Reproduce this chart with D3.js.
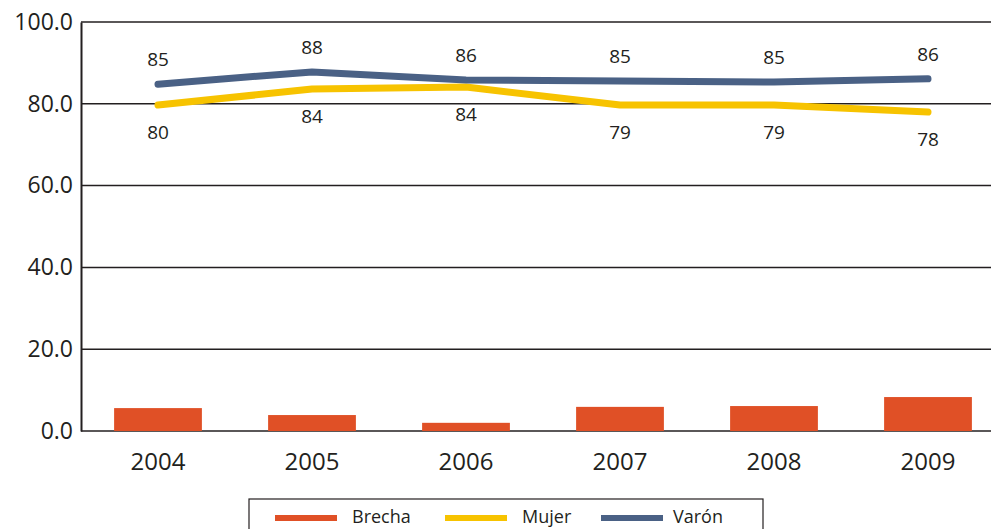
<!DOCTYPE html>
<html>
<head>
<meta charset="utf-8">
<script src="https://cdn.jsdelivr.net/npm/d3@7"></script>
<style>
  body { margin: 0; background: #fff; }
  svg { display: block; font-family: "Open Sans", sans-serif; }
</style>
</head>
<body>
<svg></svg>
<script>
const years = ["2004", "2005", "2006", "2007", "2008", "2009"];
const brecha = [5.6, 3.9, 2.0, 5.9, 6.1, 8.3];
const mujer = [79.7, 83.6, 84.1, 79.7, 79.7, 78.0];
const varon = [84.8, 87.8, 85.8, 85.6, 85.3, 86.1];
const mujerLabels = ["80", "84", "84", "79", "79", "78"];
const varonLabels = ["85", "88", "86", "85", "85", "86"];
const yTicks = [0, 20, 40, 60, 80, 100];

const svgWidth = 991, svgHeight = 529;
const margin = { top: 22, right: -14, bottom: 98, left: 81 };
const width = svgWidth - margin.left - margin.right;
const height = svgHeight - margin.top - margin.bottom;
const ink = "#231f20";

const svg = d3.select("svg").attr("width", svgWidth).attr("height", svgHeight);
const g = svg.append("g").attr("transform", "translate(" + margin.left + "," + margin.top + ")");

const x = d3.scaleBand().domain(years).range([0, width]).paddingInner(0.43).paddingOuter(0.215);
const y = d3.scaleLinear().domain([0, 100]).range([height, 0]);

// gridlines
g.append("g")
    .selectAll("line")
    .data(yTicks)
    .join("line")
    .attr("x1", 0)
    .attr("x2", width)
    .attr("y1", d => y(d))
    .attr("y2", d => y(d))
    .attr("stroke", ink)
    .attr("stroke-width", 1.5);

// y axis
const yAxis = g.append("g")
    .call(d3.axisLeft(y).tickValues(yTicks).tickSize(0).tickPadding(8).tickFormat(d3.format(".1f")));
yAxis.select(".domain").attr("stroke", ink).attr("stroke-width", 2);
yAxis.selectAll("text").attr("fill", ink).style("font-size", "23px").style("font-family", "Open Sans");

// bars
g.append("g")
    .selectAll("rect")
    .data(brecha)
    .join("rect")
    .attr("x", (d, i) => x(years[i]))
    .attr("y", d => y(d))
    .attr("width", x.bandwidth())
    .attr("height", d => y(0) - y(d))
    .attr("fill", "#e05026");

// x axis labels
const xAxis = g.append("g")
    .attr("transform", "translate(0," + height + ")")
    .call(d3.axisBottom(x).tickSize(0).tickPadding(22));
xAxis.select(".domain").remove();
xAxis.selectAll("text").attr("fill", ink).style("font-size", "24px").style("font-family", "Open Sans");

const cx = i => x(years[i]) + x.bandwidth() / 2;
const line = d3.line()
    .x((d, i) => cx(i))
    .y(d => y(d));

g.append("path")
    .datum(mujer)
    .attr("fill", "none")
    .attr("stroke", "#f7c300")
    .attr("stroke-width", 7)
    .attr("stroke-linejoin", "round")
    .attr("stroke-linecap", "round")
    .attr("d", line);

g.append("path")
    .datum(varon)
    .attr("fill", "none")
    .attr("stroke", "#4a6185")
    .attr("stroke-width", 7)
    .attr("stroke-linejoin", "round")
    .attr("stroke-linecap", "round")
    .attr("d", line);

// data labels
g.append("g")
    .selectAll("text")
    .data(varon)
    .join("text")
    .attr("x", (d, i) => cx(i))
    .attr("y", d => y(d) - 18)
    .attr("text-anchor", "middle")
    .attr("fill", ink)
    .style("font-size", "19px")
    .text((d, i) => varonLabels[i]);

g.append("g")
    .selectAll("text")
    .data(mujer)
    .join("text")
    .attr("x", (d, i) => cx(i))
    .attr("y", d => y(d) + 34)
    .attr("text-anchor", "middle")
    .attr("fill", ink)
    .style("font-size", "19px")
    .text((d, i) => mujerLabels[i]);

// legend
const legendItems = [
    { name: "Brecha", color: "#e05026" },
    { name: "Mujer", color: "#f7c300" },
    { name: "Varón", color: "#4a6185" }
];
const legend = svg.append("g").attr("transform", "translate(249,499)");
legend.append("rect")
    .attr("x", 0).attr("y", 0)
    .attr("width", 514).attr("height", 40)
    .attr("fill", "#fff")
    .attr("stroke", ink)
    .attr("stroke-width", 1.2);
const legendX = [26, 196, 352];
const item = legend.selectAll("g.item")
    .data(legendItems)
    .join("g")
    .attr("class", "item")
    .attr("transform", (d, i) => "translate(" + legendX[i] + ",0)");
item.append("rect")
    .attr("x", 0).attr("y", 16)
    .attr("width", 62).attr("height", 6)
    .attr("fill", d => d.color);
item.append("text")
    .attr("x", (d, i) => i === 2 ? 72 : 77)
    .attr("y", 24)
    .attr("fill", ink)
    .style("font-size", "18px")
    .text(d => d.name);
</script>
</body>
</html>
